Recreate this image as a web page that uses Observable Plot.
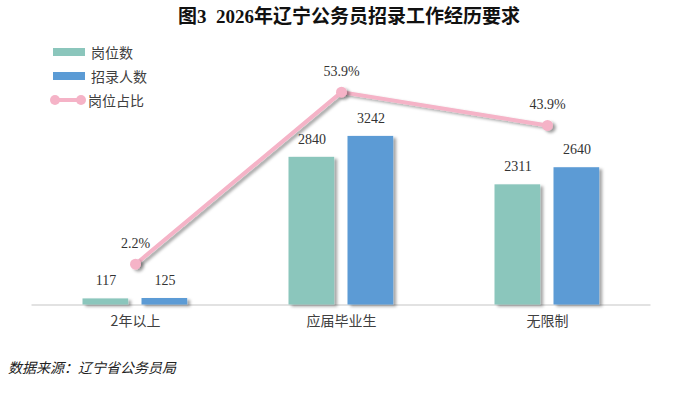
<!DOCTYPE html>
<html><head><meta charset="utf-8">
<script src="https://cdn.jsdelivr.net/npm/d3@7"></script>
<script src="https://cdn.jsdelivr.net/npm/@observablehq/plot@0.6"></script>
<style>
body{margin:0;background:#fff;width:683px;height:399px;position:relative;overflow:hidden;font-family:"Noto Sans CJK SC",sans-serif}
#title{position:absolute;left:0;width:698px;top:4px;text-align:center;font-family:"Liberation Serif","Noto Sans CJK SC",serif;font-weight:bold;font-size:19px;color:#111;line-height:26px;white-space:pre}
#chart{position:absolute;left:0;top:0}
.leg{position:absolute;left:53px;height:20px;font-size:14px;color:#404040;line-height:20px;display:flex;align-items:center}
.leg svg{margin-right:6px}
#source{position:absolute;left:8px;top:357px;font-size:14px;font-style:italic;color:#222;line-height:20px}
</style></head><body>
<div id="title"></div>
<div id="chart"></div>
<div id="legend"></div>
<div id="source">数据来源：辽宁省公务员局</div>
<script>
const titleText = "图3  2026年辽宁公务员招录工作经历要求";
const categories = ["2年以上", "应届毕业生", "无限制"];
const seriesNames = ["岗位数", "招录人数", "岗位占比"];
const posts = [117, 2840, 2311];
const hires = [125, 3242, 2640];
const shares = [2.2, 53.9, 43.9];
const shareLabels = ["2.2%", "53.9%", "43.9%"];

const C_POST = "#8bc6bc", C_HIRE = "#5b9bd5", C_SHARE = "#f5b3c7";

document.getElementById("title").textContent = titleText;

const rows = categories.map((c, i) => ({cat: c, posts: posts[i], hires: hires[i], share: shares[i], shareLabel: shareLabels[i]}));

// secondary (percent) axis mapped onto the bar axis
const shareY = d3.scaleLinear().domain([0, 100]).range([644, 7044]);

const chart = Plot.plot({
  width: 683, height: 399,
  marginTop: 44.5, marginBottom: 94.5, marginLeft: 31.5, marginRight: 32.5,
  style: {fontFamily: "'Noto Sans CJK SC', sans-serif", background: "transparent"},
  x: {type: "band", domain: categories, padding: 0, axis: null},
  y: {domain: [0, 5000], axis: null},
  marks: [
    Plot.ruleY([0], {stroke: "#d9d9d9", strokeWidth: 1.3}),
    Plot.barY(rows, {x: "cat", y: "posts", fill: C_POST, insetLeft: 50.5, insetRight: 109.8}),
    Plot.barY(rows, {x: "cat", y: "hires", fill: C_HIRE, insetLeft: 109.5, insetRight: 50.8}),
    Plot.text(rows, {x: "cat", y: "posts", text: d => String(d.posts), dx: -29.6, dy: -18, fontSize: 14, fontFamily: "'Liberation Serif', serif", fill: "#333"}),
    Plot.text(rows, {x: "cat", y: "hires", text: d => String(d.hires), dx: 29.4, dy: -18, fontSize: 14, fontFamily: "'Liberation Serif', serif", fill: "#333"}),
    Plot.lineY(rows, {x: "cat", y: d => shareY(d.share), stroke: C_SHARE, strokeWidth: 4}),
    Plot.dot(rows, {x: "cat", y: d => shareY(d.share), r: 5.5, fill: C_SHARE, stroke: "none"}),
    Plot.text(rows, {x: "cat", y: d => shareY(d.share), text: "shareLabel", dy: -21, fontSize: 14, fontFamily: "'Liberation Serif', serif", fill: "#333"}),
    Plot.axisX({tickSize: 0, tickPadding: 11, fontSize: 14, color: "#404040", label: null})
  ]
});
document.getElementById("chart").appendChild(chart);

// drop shadows
const ns = "http://www.w3.org/2000/svg";
const defs = document.createElementNS(ns, "defs");
defs.innerHTML = '<filter id="sh" x="-20%" y="-20%" width="150%" height="150%"><feDropShadow dx="3" dy="2" stdDeviation="1.8" flood-color="#000" flood-opacity="0.35"/></filter>';
chart.insertBefore(defs, chart.firstChild);
chart.querySelectorAll('g[aria-label="bar"], g[aria-label="line"], g[aria-label="dot"]').forEach(g => g.setAttribute("filter", "url(#sh)"));

// legend
const leg = document.getElementById("legend");
const legTops = [42, 66, 90];
seriesNames.forEach((name, i) => {
  const div = document.createElement("div");
  div.className = "leg";
  div.style.top = legTops[i] + "px";
  let sw;
  if (i < 2) {
    sw = `<svg width="32" height="10"><rect x="0" y="1" width="32" height="8" fill="${i === 0 ? C_POST : C_HIRE}"/></svg>`;
  } else {
    sw = `<svg width="38" height="14" style="margin-left:-3px;margin-right:0"><line x1="4" y1="7" x2="32" y2="7" stroke="${C_SHARE}" stroke-width="4"/><circle cx="5" cy="7" r="5" fill="${C_SHARE}"/><circle cx="31" cy="7" r="5" fill="${C_SHARE}"/></svg>`;
  }
  div.innerHTML = sw + `<span>${name}</span>`;
  leg.appendChild(div);
});
</script>
</body></html>
